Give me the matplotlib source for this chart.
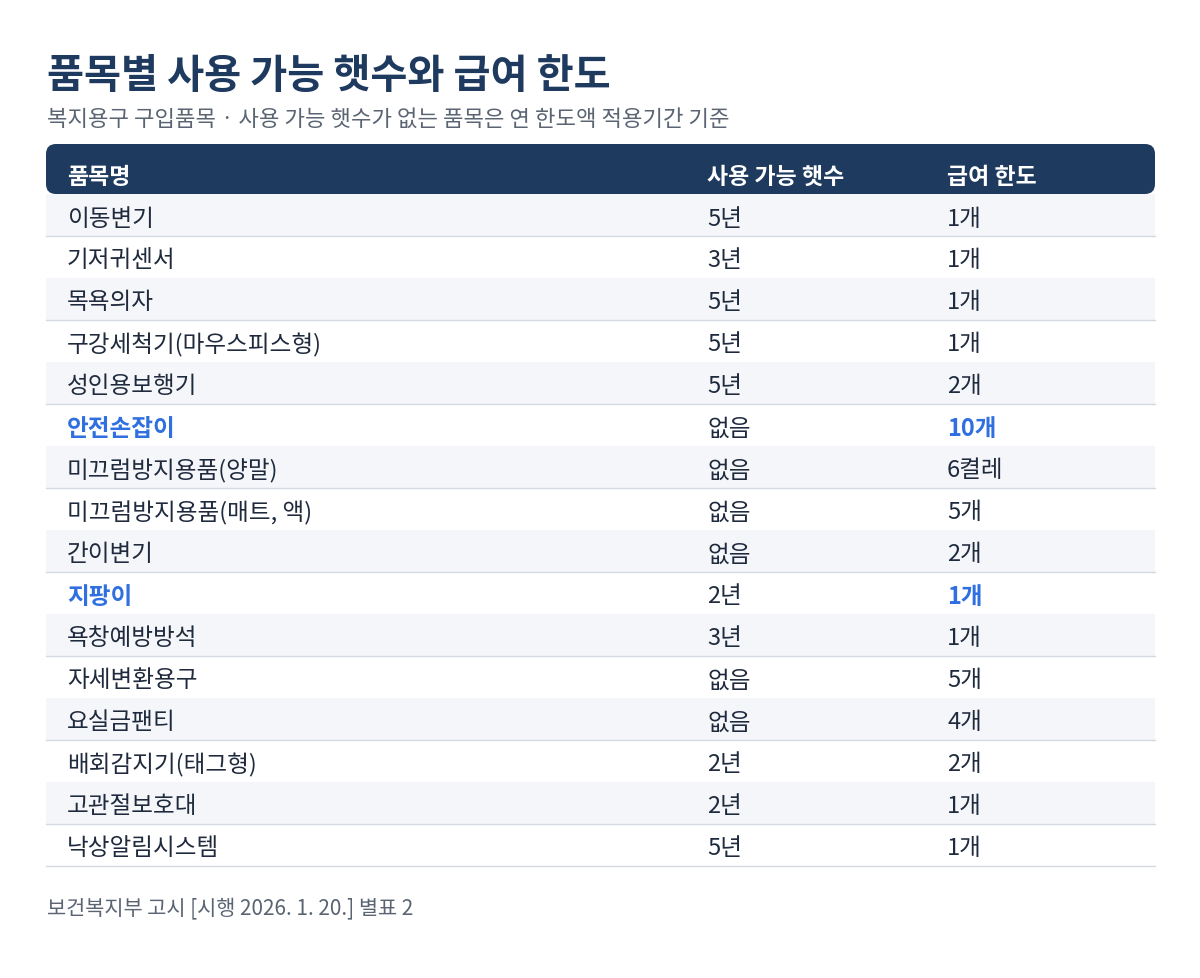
import matplotlib.pyplot as plt
from matplotlib.patches import FancyBboxPatch, Rectangle

plt.rcParams['font.family'] = ['Noto Sans CJK KR', 'DejaVu Sans']

title = '품목별 사용 가능 햇수와 급여 한도'
subtitle = '복지용구 구입품목 · 사용 가능 햇수가 없는 품목은 연 한도액 적용기간 기준'
footer = '보건복지부 고시 [시행 2026. 1. 20.] 별표 2'
headers = ['품목명', '사용 가능 햇수', '급여 한도']
items = ['이동변기', '기저귀센서', '목욕의자', '구강세척기(마우스피스형)', '성인용보행기',
         '안전손잡이', '미끄럼방지용품(양말)', '미끄럼방지용품(매트, 액)', '간이변기', '지팡이',
         '욕창예방방석', '자세변환용구', '요실금팬티', '배회감지기(태그형)', '고관절보호대',
         '낙상알림시스템']
years = ['5년', '3년', '5년', '5년', '5년', '없음', '없음', '없음', '없음', '2년',
         '3년', '없음', '없음', '2년', '2년', '5년']
limits = ['1개', '1개', '1개', '1개', '2개', '10개', '6켤레', '5개', '2개', '1개',
          '1개', '5개', '4개', '2개', '1개', '1개']
highlight = ['안전손잡이', '지팡이']

navy = '#1e3a5f'
blue = '#2f6fe0'
dark = '#1f2a3d'
gray = '#5a6472'

fig = plt.figure(figsize=(12, 9.79), dpi=100)
ax = fig.add_axes([0, 0, 1, 1])
ax.set_xlim(0, 1200)
ax.set_ylim(979, 0)
ax.axis('off')

ax.text(47, 76, title, fontsize=29, fontweight='bold', color=navy, va='center')
ax.text(47, 119, subtitle, fontsize=16, color=gray, va='center')

left, right = 46, 1155
cols = [67, 707, 947]
ax.add_patch(FancyBboxPatch((left, 145), right - left, 50,
                            boxstyle='round,pad=0,rounding_size=10', fc=navy, ec='none'))
for x, h in zip(cols, headers):
    ax.text(x, 177, h, fontsize=16.5, fontweight='bold', color='white', va='center')

row_h = 42
top = 195
for i, (n, y, l) in enumerate(zip(items, years, limits)):
    y0 = top + i * row_h
    if i % 2 == 0:
        ax.add_patch(Rectangle((left, y0), right - left, row_h, fc='#f4f6fa', ec='none'))
        ax.plot([left, right], [y0 + row_h] * 2, color='#d5d9e0', lw=1)
    hl = n in highlight
    yc = y0 + row_h / 2 + 3
    ax.text(cols[0], yc, n, fontsize=17, color=blue if hl else dark,
            fontweight='bold' if hl else 'normal', va='center')
    ax.text(cols[1], yc, y, fontsize=17, color=dark, va='center')
    ax.text(cols[2], yc, l, fontsize=17, color=blue if hl else dark,
            fontweight='bold' if hl else 'normal', va='center')
ax.plot([left, right], [top + len(items) * row_h] * 2, color='#d5d9e0', lw=1)

ax.text(47, 908, footer, fontsize=15, color=gray, va='center')

fig.savefig('out.png', dpi=100)
